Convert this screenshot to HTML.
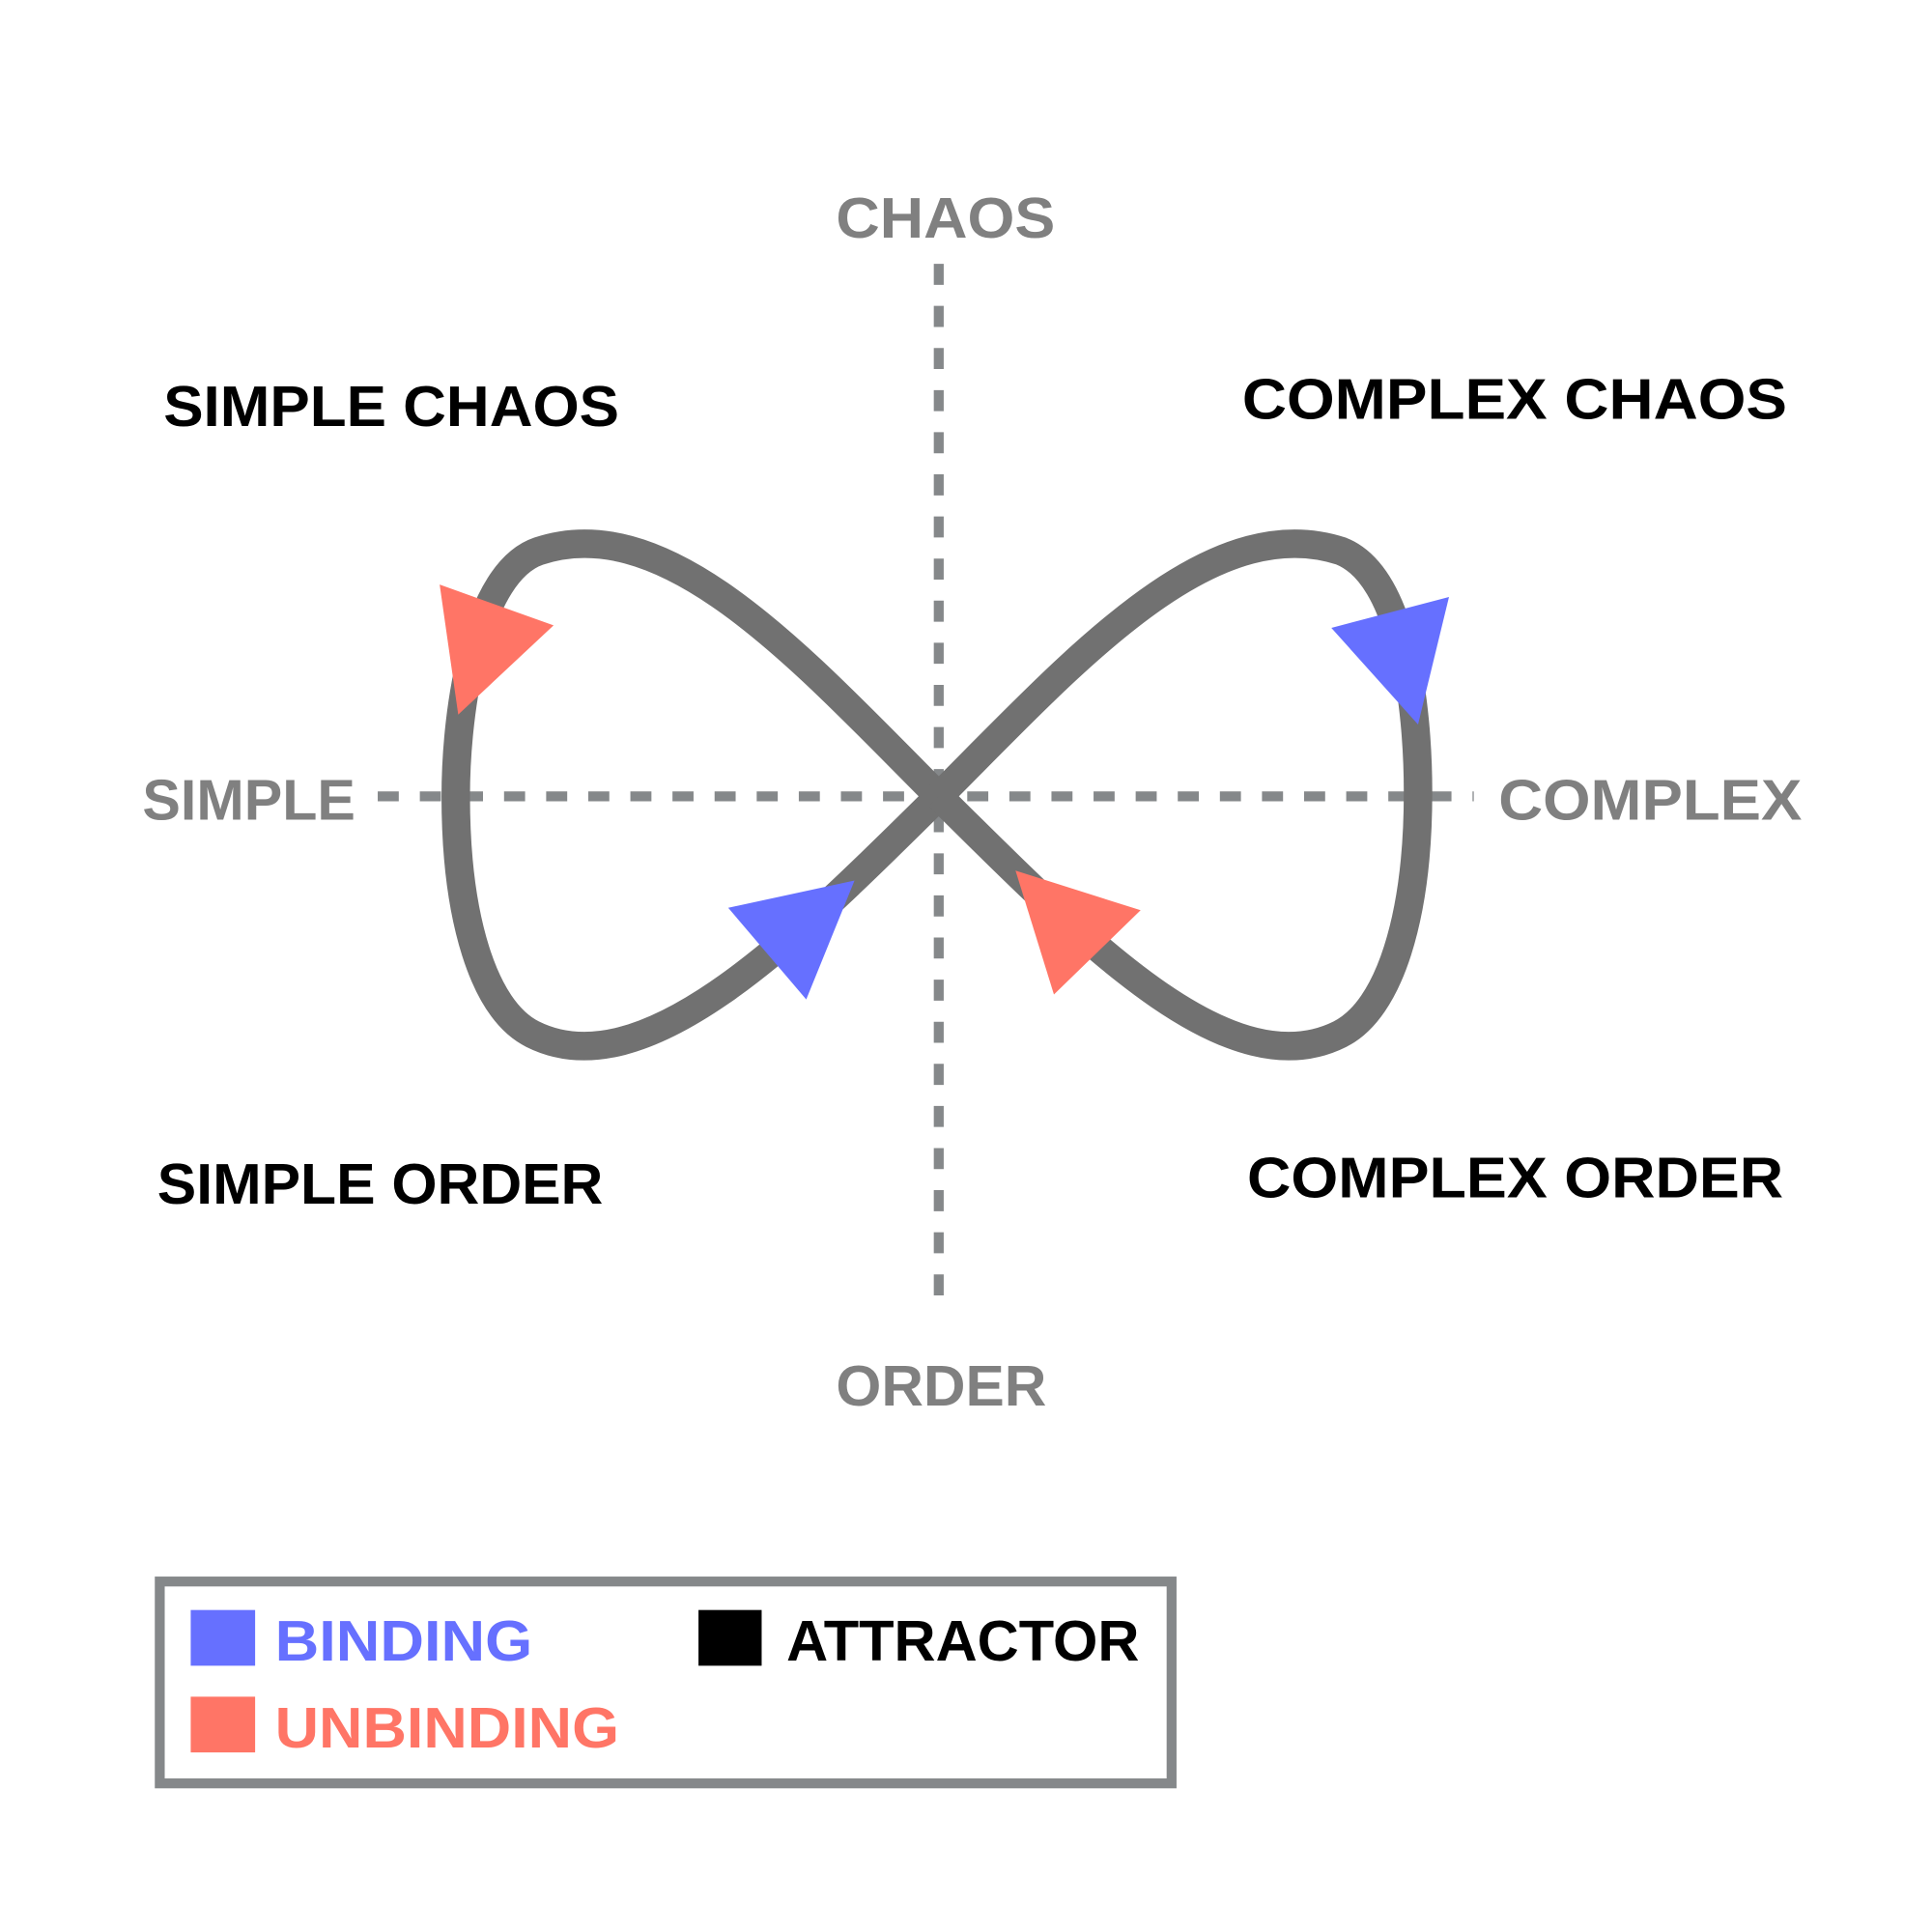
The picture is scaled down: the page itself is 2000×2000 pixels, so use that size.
<!DOCTYPE html>
<html><head><meta charset="utf-8"><style>html,body{margin:0;padding:0;background:#fff}svg{display:block}</style></head>
<body>
<svg width="2000" height="2000" viewBox="0 0 1560 1560" xmlns="http://www.w3.org/2000/svg">
<rect width="1560" height="1560" fill="#fff"/>
<g stroke="#85888a" stroke-width="8" stroke-dasharray="17,17" fill="none">
<line x1="758" y1="213" x2="758" y2="1058"/>
<line x1="305" y1="643" x2="1190" y2="643"/>
</g>
<g stroke="#717171" stroke-width="23" fill="none" stroke-linejoin="round">
<path d="M758,643 C650,535 540,410 435,445 C385,462 368,570 368,643 C368,740 390,815 430,835 C520,880 640,760 758,643"/>
<path d="M758,643 C866,535 976,410 1083,445 C1133,465 1145,570 1145,640 C1145,740 1122,815 1082,835 C992,880 876,760 758,643"/>
</g>
<g stroke="none">
<polygon points="355,472 447,505 370,577" fill="#ff7566"/>
<polygon points="1170,482 1075,507 1145,585" fill="#6670ff"/>
<polygon points="588,733 690,711 651,807" fill="#6670ff"/>
<polygon points="820,703 921,735 851,803" fill="#ff7566"/>
</g>
<g font-family="Liberation Sans, sans-serif" font-weight="bold" font-size="46">
<text x="675" y="192" fill="#808080" textLength="177" lengthAdjust="spacingAndGlyphs">CHAOS</text>
<text x="115" y="662" fill="#808080" textLength="172" lengthAdjust="spacingAndGlyphs">SIMPLE</text>
<text x="1210" y="662" fill="#808080" textLength="245" lengthAdjust="spacingAndGlyphs">COMPLEX</text>
<text x="675" y="1135" fill="#808080" textLength="170" lengthAdjust="spacingAndGlyphs">ORDER</text>
<text x="132" y="344" fill="#000" textLength="368" lengthAdjust="spacingAndGlyphs">SIMPLE CHAOS</text>
<text x="1003" y="338" fill="#000" textLength="440" lengthAdjust="spacingAndGlyphs">COMPLEX CHAOS</text>
<text x="127" y="972" fill="#000" textLength="360" lengthAdjust="spacingAndGlyphs">SIMPLE ORDER</text>
<text x="1007" y="967" fill="#000" textLength="433" lengthAdjust="spacingAndGlyphs">COMPLEX ORDER</text>
</g>
<rect x="129" y="1277" width="817" height="163" fill="none" stroke="#85888a" stroke-width="8"/>
<rect x="154" y="1300" width="52" height="45" fill="#6670ff"/>
<rect x="154" y="1370" width="52" height="45" fill="#ff7566"/>
<rect x="564" y="1300" width="51" height="45" fill="#000"/>
<g font-family="Liberation Sans, sans-serif" font-weight="bold" font-size="46">
<text x="222" y="1341" fill="#6670ff" textLength="208" lengthAdjust="spacingAndGlyphs">BINDING</text>
<text x="222" y="1411" fill="#ff7566" textLength="278" lengthAdjust="spacingAndGlyphs">UNBINDING</text>
<text x="635" y="1341" fill="#000" textLength="285" lengthAdjust="spacingAndGlyphs">ATTRACTOR</text>
</g>
</svg>
</body></html>
